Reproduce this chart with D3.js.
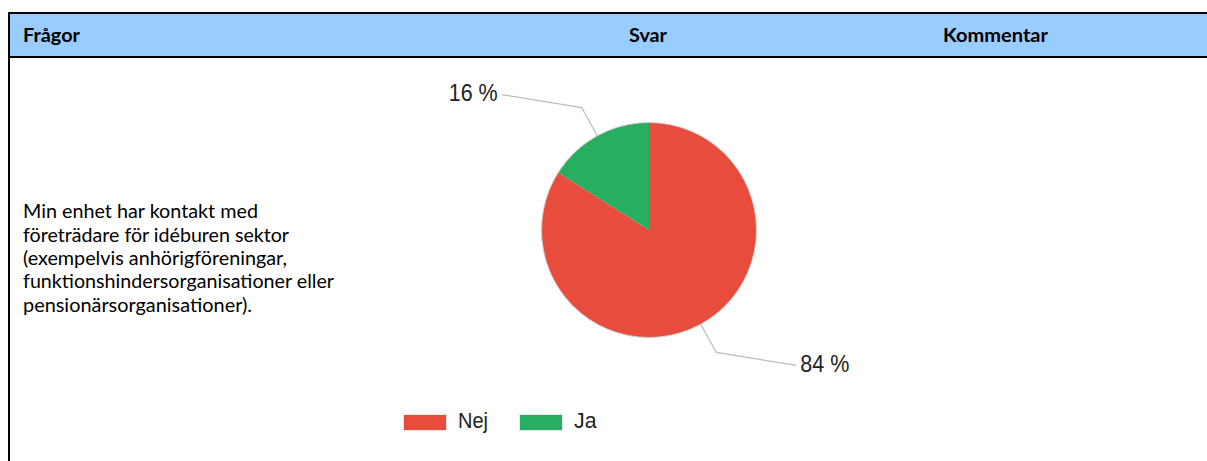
<!DOCTYPE html>
<html><head><meta charset="utf-8">
<script src="https://cdn.jsdelivr.net/npm/d3@7"></script>
<style>html,body{margin:0;padding:0;background:#fff;}svg{display:block;}</style>
</head><body>
<svg id="c" width="1207" height="461"></svg>
<script>
const headers = ["Frågor", "Svar", "Kommentar"];
const questionLines = [
  "Min enhet har kontakt med",
  "företrädare för idéburen sektor",
  "(exempelvis anhörigföreningar,",
  "funktionshindersorganisationer eller",
  "pensionärsorganisationer)."
];
const categories = ["Nej", "Ja"];
const values = [84, 16];
const colors = ["#e74c3c", "#27ae60"];

const svg = d3.select("#c");
const W = 1207, H = 461;

// table frame
svg.append("rect").attr("x", 9).attr("y", 13).attr("width", W - 9).attr("height", 44)
  .attr("fill", "#99ccff");
svg.append("line").attr("x1", 8).attr("x2", W).attr("y1", 13).attr("y2", 13)
  .attr("stroke", "#000").attr("stroke-width", 2);
svg.append("line").attr("x1", 8).attr("x2", W).attr("y1", 57).attr("y2", 57)
  .attr("stroke", "#000").attr("stroke-width", 2);
svg.append("line").attr("x1", 9).attr("x2", 9).attr("y1", 12).attr("y2", H)
  .attr("stroke", "#000").attr("stroke-width", 2);

const textFont = "Lato, 'Open Sans', sans-serif";
const hx = [23, 648, 995.5], ha = ["start", "middle", "middle"], hw = [57, 38, 105];
svg.selectAll("text.h").data(headers).join("text").attr("class", "h")
  .attr("x", (d, i) => hx[i]).attr("y", 41.5)
  .attr("text-anchor", (d, i) => ha[i])
  .attr("font-family", textFont).attr("font-weight", "bold").attr("font-size", 19.5)
  .attr("textLength", (d, i) => hw[i]).attr("lengthAdjust", "spacingAndGlyphs")
  .attr("fill", "#000").text(d => d);

// question text
const qw = [235, 266, 264, 311, 229];
svg.selectAll("text.q").data(questionLines).join("text").attr("class", "q")
  .attr("x", 23).attr("y", (d, i) => 218.3 + i * 23.3)
  .attr("font-family", textFont).attr("font-size", 19.5)
  .attr("textLength", (d, i) => qw[i]).attr("lengthAdjust", "spacingAndGlyphs")
  .attr("fill", "#000").text(d => d);

// pie
const cx = 649, cy = 230, r = 107.5;
const g = svg.append("g").attr("transform", `translate(${cx},${cy})`);
const pie = d3.pie().sort(null).value(d => d);
const arcs = pie(values);
const arc = d3.arc().innerRadius(0).outerRadius(r);
g.selectAll("path.s").data(arcs).join("path").attr("class", "s")
  .attr("d", arc).attr("fill", (d, i) => colors[i]);
g.append("circle").attr("r", r).attr("fill", "none").attr("stroke", "#d0d0d0").attr("stroke-width", 1);

// leader lines and labels
const total = d3.sum(values);
const pct = d3.format(".0f");
arcs.forEach((d, i) => {
  const a = (d.startAngle + d.endAngle) / 2;
  const p0 = [r * Math.sin(a), -r * Math.cos(a)];
  const p1 = [1.3 * r * Math.sin(a), -1.3 * r * Math.cos(a)];
  const side = Math.sin(a) >= 0 ? 1 : -1;
  const p2 = [p1[0] + side * 80, p1[1] + side * 13];
  g.append("polyline").attr("points", [p0, p1, p2].map(p => p.join(",")).join(" "))
    .attr("fill", "none").attr("stroke", "#bdbdbd").attr("stroke-width", 1.3);
  g.append("text").attr("x", p2[0] + side * 4).attr("y", p2[1]).attr("dy", "0.28em")
    .attr("text-anchor", side > 0 ? "start" : "end")
    .attr("font-family", "'Liberation Sans', Arial, sans-serif").attr("font-size", 23)
    .attr("textLength", 49).attr("lengthAdjust", "spacingAndGlyphs")
    .attr("fill", "#222").text(pct(values[i] / total * 100) + " %");
});

// legend
const lx = [403.5, 519.5];
const lw = [30, 22.5];
const lg = svg.selectAll("g.lg").data(categories).join("g").attr("class", "lg")
  .attr("transform", (d, i) => `translate(${lx[i]},414.5)`);
lg.append("rect").attr("width", 43).attr("height", 16).attr("fill", (d, i) => colors[i])
  .attr("stroke", "#e8e8e8").attr("stroke-width", 1);
lg.append("text").attr("x", 54.5).attr("y", 13.5)
  .attr("font-family", "'Liberation Sans', Arial, sans-serif").attr("font-size", 22)
  .attr("textLength", (d, i) => lw[i]).attr("lengthAdjust", "spacingAndGlyphs")
  .attr("fill", "#222").text(d => d);
</script>
</body></html>
